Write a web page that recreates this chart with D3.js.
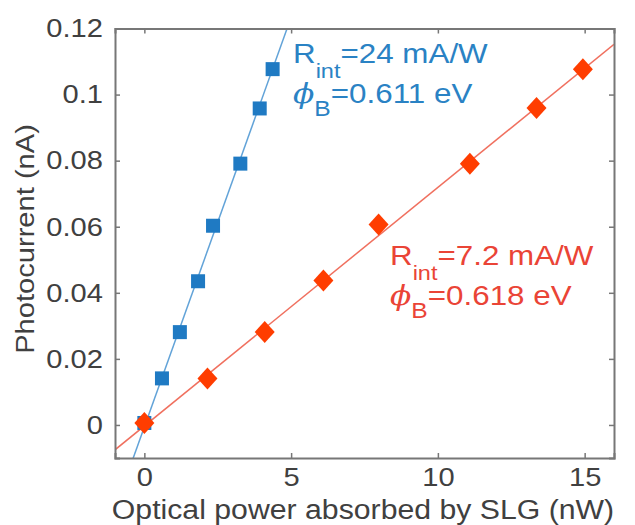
<!DOCTYPE html>
<html>
  <head>
    <script src="https://cdn.jsdelivr.net/npm/d3@7"></script>
    <style>
      body { margin: 0; background: #fff; }
      text { font-family: "Liberation Sans", Arial, sans-serif; }
    </style>
  </head>
  <body>
    <svg id="chart" width="635" height="525"></svg>
    <script>
    // blue: squares, red: diamonds
    var bluePower   = [0, 0.6, 1.21, 1.83, 2.34, 3.27, 3.93, 4.37];
    var blueCurrent = [0.0006, 0.0141, 0.0281, 0.0435, 0.0603, 0.0791, 0.0958, 0.1077];
    var redPower    = [0, 2.15, 4.1, 6.1, 7.98, 11.09, 13.36, 14.94];
    var redCurrent  = [0.0006, 0.0141, 0.0281, 0.0437, 0.0607, 0.0791, 0.0959, 0.1077];
    // linear fits: [slope, intercept]
    var blueFit = [0.0248, -0.0006];
    var redFit  = [0.00722, -0.0003];
    var xTicks = [0, 5, 10, 15];
    var yTicks = [0, 0.02, 0.04, 0.06, 0.08, 0.1, 0.12];

    var svg = d3.select("#chart")
      , x = d3.scaleLinear().domain([-1, 16]).range([115, 614])
      , y = d3.scaleLinear().domain([-0.01, 0.12]).range([458, 28.5])
      , grey = "#777", ink = "#404040"
      , blue = "#1f7ac3", red = "#ff3d00"
      , wide = 1.12;  // the source font runs wider than Helvetica
    var none = function(){ return ""; };

    // widen a text along its baseline, keeping its anchor point fixed
    function stretch(sel){
      sel.each(function(){
        var t = d3.select(this), ax = +t.attr("x") || 0, old = t.attr("transform") || "";
        t.attr("transform", old + " translate(" + ax + ",0) scale(" + wide + ",1) translate(" + (-ax) + ",0)");
      });
    }

    svg.append("clipPath").attr("id", "clip").append("rect")
      .attr("x", x(-1)).attr("y", y(0.12))
      .attr("width", x(16) - x(-1)).attr("height", y(-0.01) - y(0.12));

    function fitLine(fit){
      return [[-1, fit[0] * -1 + fit[1]], [16, fit[0] * 16 + fit[1]]];
    }
    var line = d3.line().x(function(d){ return x(d[0]); }).y(function(d){ return y(d[1]); });

    var plot = svg.append("g").attr("clip-path", "url(#clip)");
    plot.append("path").attr("d", line(fitLine(redFit)))
      .attr("stroke", "#f0705f").attr("stroke-width", 1.5).attr("fill", "none");
    plot.append("path").attr("d", line(fitLine(blueFit)))
      .attr("stroke", "#62a3d8").attr("stroke-width", 1.5).attr("fill", "none");

    plot.selectAll(".sq").data(d3.zip(bluePower, blueCurrent)).enter().append("rect")
      .attr("x", function(d){ return x(d[0]) - 7; })
      .attr("y", function(d){ return y(d[1]) - 7; })
      .attr("width", 14).attr("height", 14).attr("fill", blue);

    plot.selectAll(".dm").data(d3.zip(redPower, redCurrent)).enter().append("path")
      .attr("d", function(d){
        var cx = x(d[0]), cy = y(d[1]);
        return "M" + cx + "," + (cy - 11) + "L" + (cx + 10) + "," + cy +
               "L" + cx + "," + (cy + 11) + "L" + (cx - 10) + "," + cy + "Z";
      })
      .attr("fill", red);

    // axes: MATLAB style box with inward ticks
    var axB = d3.axisBottom(x).tickValues(xTicks).tickSize(-5).tickPadding(10).tickFormat(d3.format("d"));
    var axT = d3.axisTop(x).tickValues(xTicks).tickSize(-5).tickFormat(none);
    var axL = d3.axisLeft(y).tickValues(yTicks).tickSize(-5).tickPadding(12)
      .tickFormat(function(d){ return String(+d.toFixed(2)); });
    var axR = d3.axisRight(y).tickValues(yTicks).tickSize(-5).tickFormat(none);

    function style(size){
      return function(g){
        g.selectAll("path, line").attr("stroke", grey).attr("stroke-width", 1.5);
        g.selectAll("text").attr("fill", ink).style("font-size", size)
          .style("font-family", "'Liberation Sans', Arial, sans-serif").call(stretch);
      };
    }
    svg.append("g").attr("transform", "translate(0," + y(-0.01) + ")").call(axB).call(style("26px"));
    svg.append("g").attr("transform", "translate(0," + y(0.12) + ")").call(axT).call(style("26px"));
    svg.append("g").attr("transform", "translate(" + x(-1) + ",0)").call(axL).call(style("26px"));
    svg.append("g").attr("transform", "translate(" + x(16) + ",0)").call(axR).call(style("26px"));
    svg.selectAll(".domain").attr("stroke-width", 2);

    svg.append("text").attr("x", 363).attr("y", 519).attr("text-anchor", "middle")
      .attr("fill", ink).style("font-size", "27px")
      .text("Optical power absorbed by SLG (nW)").call(stretch);
    svg.append("text").attr("transform", "translate(34,239) rotate(-90)").attr("text-anchor", "middle")
      .attr("fill", ink).style("font-size", "26px")
      .text("Photocurrent (nA)").call(stretch);

    function annotate(px, py, colour, resp, phi){
      var t1 = svg.append("text").attr("x", px).attr("y", py).attr("fill", colour).style("font-size", "28px");
      t1.append("tspan").text("R");
      t1.append("tspan").attr("dy", 15).style("font-size", "21px").text("int");
      t1.append("tspan").attr("dy", -15).text("=" + resp + " mA/W");
      t1.call(stretch);
      var t2 = svg.append("text").attr("x", px).attr("y", py + 40).attr("fill", colour).style("font-size", "28px");
      t2.append("tspan").style("font-style", "italic").style("font-family", "'DejaVu Serif', serif").text("\u03d5");
      t2.append("tspan").attr("dy", 13).style("font-size", "22px").text("B");
      t2.append("tspan").attr("dy", -13).text("=" + phi + " eV");
      t2.call(stretch);
    }
    annotate(293, 63, "#2a82c4", "24", "0.611");
    annotate(390, 265, "#ea4436", "7.2", "0.618");
    </script>
  </body>
</html>
